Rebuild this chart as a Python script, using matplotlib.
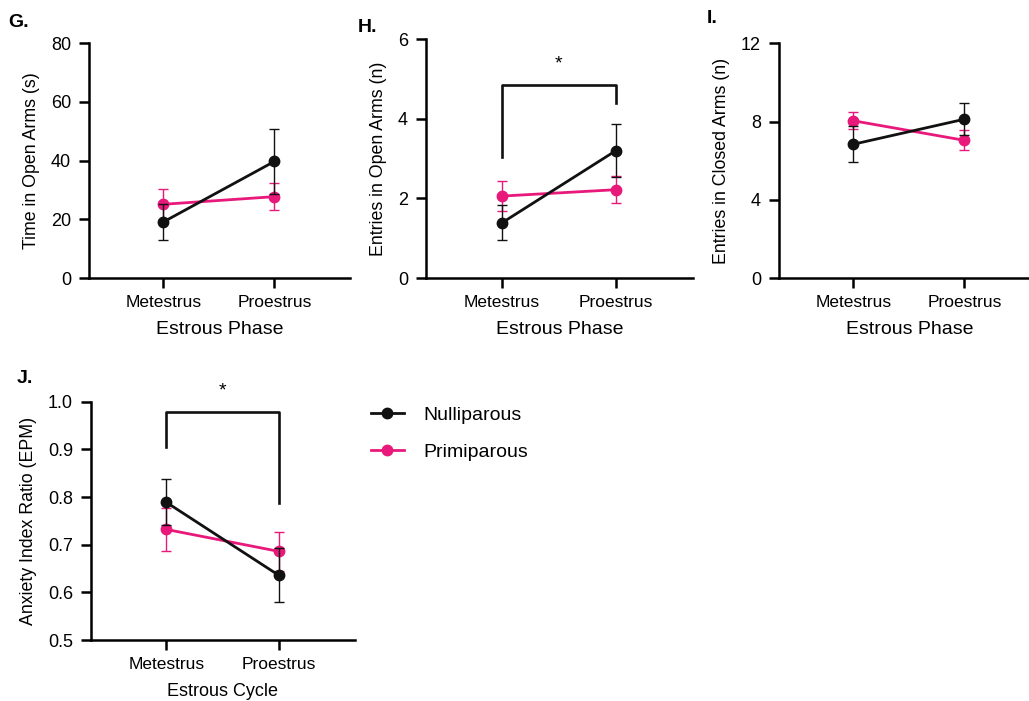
import numpy as np
import matplotlib.pyplot as plt
from matplotlib.lines import Line2D

plt.rcParams["font.family"] = ["Liberation Sans", "DejaVu Sans"]

# data (mean, SEM)
phases = ["Metestrus", "Proestrus"]

time_null = [19.1, 39.7]
time_null_sem = [6.1, 11.2]
time_prim = [25.1, 27.7]
time_prim_sem = [5.3, 4.5]

open_null = [1.39, 3.20]
open_null_sem = [0.44, 0.66]
open_prim = [2.06, 2.22]
open_prim_sem = [0.38, 0.34]

closed_null = [6.84, 8.12]
closed_null_sem = [0.91, 0.82]
closed_prim = [8.04, 7.04]
closed_prim_sem = [0.44, 0.51]

ratio_null = [0.789, 0.636]
ratio_null_sem = [0.048, 0.057]
ratio_prim = [0.732, 0.686]
ratio_prim_sem = [0.045, 0.041]

# significance brackets: (left foot, right foot, top)
bracket_open = [3.05, 4.39, 4.85]
bracket_ratio = [0.904, 0.788, 0.979]

BLACK = "#111111"
PINK = "#e8197b"


def style_axes(ax, ylim, yticks, ylabel, xlabel, ylabel_fmt=None):
    x = np.arange(len(phases))
    ax.set_xlim(-0.67, 1.68)
    ax.set_ylim(*ylim)
    ax.set_xticks(x)
    ax.set_xticklabels(phases, fontsize=12.5)
    ax.set_yticks(yticks)
    if ylabel_fmt:
        ax.set_yticklabels([ylabel_fmt.format(v) for v in yticks])
    ax.tick_params(axis="y", labelsize=13, length=7, width=1.8, pad=6)
    ax.tick_params(axis="x", length=7, width=1.8, pad=5)
    for s in ["top", "right"]:
        ax.spines[s].set_visible(False)
    for s in ["left", "bottom"]:
        ax.spines[s].set_linewidth(1.8)
    ax.set_ylabel(ylabel, fontsize=12.8, labelpad=8)
    ax.set_xlabel(xlabel, fontsize=14, labelpad=8)


def draw_groups(ax, null, null_sem, prim, prim_sem):
    x = np.arange(len(phases))
    ax.errorbar(x, prim, yerr=prim_sem, color=PINK, marker="o",
                markersize=7.5, lw=2.0, elinewidth=1.0, capsize=3.5,
                capthick=1.0, clip_on=False, zorder=3)
    ax.errorbar(x, null, yerr=null_sem, color=BLACK, marker="o",
                markersize=7.5, lw=2.0, elinewidth=1.0, capsize=3.5,
                capthick=1.0, clip_on=False, zorder=4)


def draw_bracket(ax, b):
    ax.plot([0, 0, 1, 1], [b[0], b[2], b[2], b[1]], color=BLACK, lw=1.9,
            clip_on=False)
    ax.annotate("*", xy=(0.5, b[2]), xytext=(0, 12), textcoords="offset points",
                ha="center", va="baseline", fontsize=14)


fig = plt.figure(figsize=(10.29, 7.01), dpi=100)

ax_g = fig.add_axes([0.0865, 0.6034, 0.2536, 0.3352])
ax_h = fig.add_axes([0.4140, 0.6034, 0.2595, 0.3405])
ax_i = fig.add_axes([0.7570, 0.6034, 0.2536, 0.3348])
ax_j = fig.add_axes([0.0884, 0.0870, 0.2566, 0.3400])

draw_groups(ax_g, time_null, time_null_sem, time_prim, time_prim_sem)
style_axes(ax_g, (0, 80), [0, 20, 40, 60, 80], "Time in Open Arms (s)",
           "Estrous Phase")

draw_groups(ax_h, open_null, open_null_sem, open_prim, open_prim_sem)
draw_bracket(ax_h, bracket_open)
style_axes(ax_h, (0, 6), [0, 2, 4, 6], "Entries in Open Arms (n)",
           "Estrous Phase")

draw_groups(ax_i, closed_null, closed_null_sem, closed_prim, closed_prim_sem)
style_axes(ax_i, (0, 12), [0, 4, 8, 12], "Entries in Closed Arms (n)",
           "Estrous Phase")

draw_groups(ax_j, ratio_null, ratio_null_sem, ratio_prim, ratio_prim_sem)
draw_bracket(ax_j, bracket_ratio)
style_axes(ax_j, (0.5, 1.0), [0.5, 0.6, 0.7, 0.8, 0.9, 1.0],
           "Anxiety Index Ratio (EPM)", "Estrous Cycle", ylabel_fmt="{:.1f}")
ax_j.xaxis.label.set_size(13)

# legend (plain line + marker, no error bars)
handles = [Line2D([], [], color=BLACK, marker="o", markersize=7.5, lw=2.0),
           Line2D([], [], color=PINK, marker="o", markersize=7.5, lw=2.0)]
fig.legend(handles, ["Nulliparous", "Primiparous"],
           loc="upper left", bbox_to_anchor=(0.3605, 0.420), frameon=False,
           fontsize=14, handlelength=1.7, handletextpad=1.0,
           labelspacing=1.0, borderpad=0, borderaxespad=0)

# panel letters
for txt, x, y in [("G.", 8, 27), ("H.", 358, 32), ("I.", 707, 23),
                  ("J.", 17, 383)]:
    fig.text(x / 1029, 1 - y / 701, txt, fontsize=14, fontweight="bold",
             va="baseline", ha="left")

fig.savefig("out.png", dpi=100)
